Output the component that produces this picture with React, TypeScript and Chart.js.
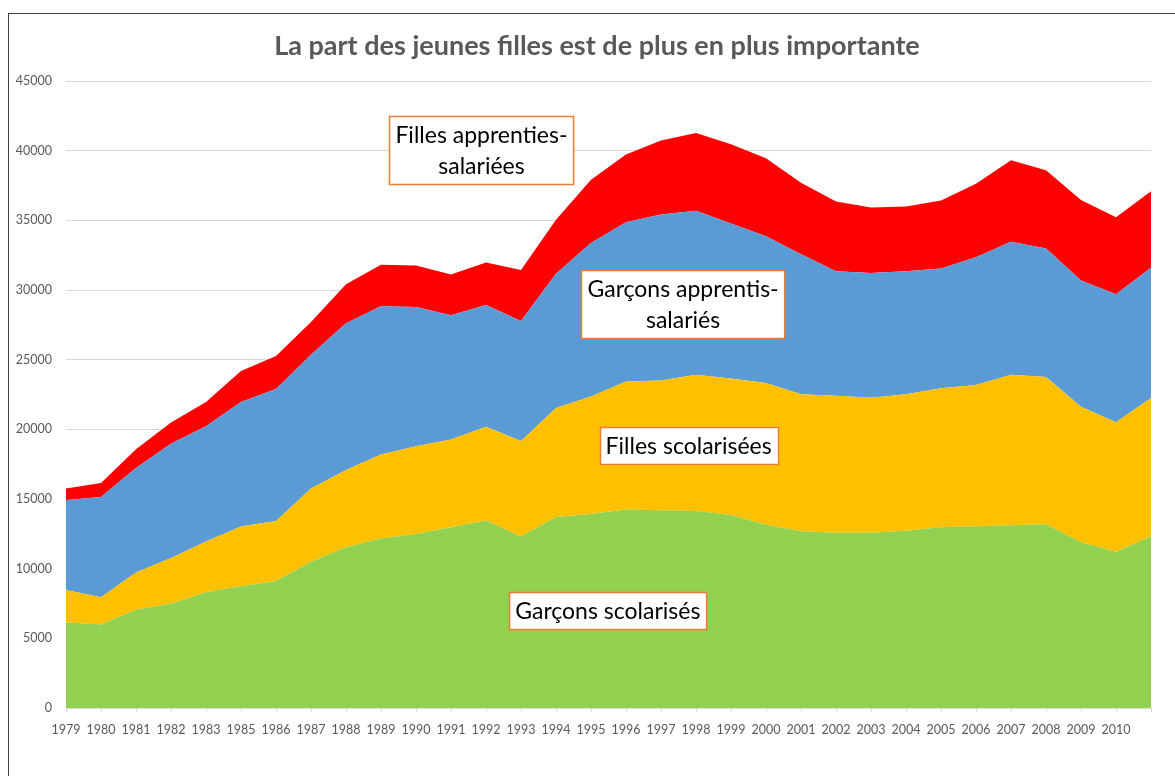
import React, { useEffect, useRef } from "react";
import { Chart, registerables } from "chart.js";

Chart.register(...registerables);

const TITLE = "La part des jeunes filles est de plus en plus importante";

const YEARS = [
  "1979", "1980", "1981", "1982", "1983", "1985", "1986", "1987", "1988", "1989",
  "1990", "1991", "1992", "1993", "1994", "1995", "1996", "1997", "1998", "1999",
  "2000", "2001", "2002", "2003", "2004", "2005", "2006", "2007", "2008", "2009",
  "2010", "",
];

const GARCONS_SCOLARISES = [
  6140, 6000, 7050, 7490, 8300, 8730, 9110, 10490, 11540, 12160,
  12490, 12970, 13460, 12300, 13700, 13920, 14240, 14190, 14140, 13860,
  13160, 12680, 12570, 12570, 12730, 12970, 13050, 13110, 13190, 11890,
  11220, 12300,
];

const FILLES_SCOLARISEES = [
  2320, 1950, 2680, 3270, 3650, 4300, 4320, 5270, 5540, 6030,
  6290, 6300, 6730, 6860, 7840, 8430, 9190, 9320, 9780, 9790,
  10160, 9830, 9840, 9700, 9780, 9980, 10140, 10810, 10570, 9730,
  9290, 9940,
];

const GARCONS_APPRENTIS = [
  6460, 7190, 7490, 8210, 8270, 8940, 9460, 9590, 10540, 10650,
  10000, 8920, 8730, 8620, 9620, 11030, 11430, 11900, 11760, 11130,
  10540, 10060, 8940, 8950, 8840, 8590, 9160, 9540, 9210, 9060,
  9190, 9350,
];

const FILLES_APPRENTIES = [
  840, 1000, 1350, 1520, 1750, 2220, 2380, 2350, 2790, 2970,
  2980, 2920, 3050, 3650, 3890, 4540, 4870, 5320, 5590, 5680,
  5600, 5130, 5000, 4700, 4650, 4890, 5270, 5860, 5620, 5780,
  5520, 5490,
];

const SERIES_NAMES = [
  "Garçons scolarisés",
  "Filles scolarisées",
  "Garçons apprentis-salariés",
  "Filles apprenties-salariées",
];

const ANNOTATION_LINES = [
  ["Filles apprenties-", "salariées"],
  ["Garçons apprentis-", "salariés"],
  ["Filles scolarisées"],
  ["Garçons scolarisés"],
];

const Y_MAX = 45000;
const Y_STEP = 5000;

export default function App() {
  const canvasRef = useRef<HTMLCanvasElement | null>(null);

  useEffect(() => {
    const canvas = canvasRef.current;
    if (!canvas) return;

    // anchor (category index, value) for the centre of each annotation box
    const anchors = [
      [11.87, 40080],
      [17.63, 29000],
      [17.79, 18840],
      [15.48, 7030],
    ];

    const decorPlugin = {
      id: "decor",
      afterDatasetsDraw(chart: any) {
        const ctx = chart.ctx as CanvasRenderingContext2D;
        const xs = chart.scales.x;
        const ys = chart.scales.y;
        ctx.save();
        ctx.font = "23px Lato";
        const lineH = 31;
        const padX = 6;
        const padY = 3;
        ANNOTATION_LINES.forEach((lines, i) => {
          const cx = xs.getPixelForValue(anchors[i][0]);
          const cy = ys.getPixelForValue(anchors[i][1]);
          const w = Math.max(...lines.map((l) => ctx.measureText(l).width)) + 2 * padX;
          const h = lines.length * lineH + 2 * padY;
          const x0 = Math.round(cx - w / 2) + 0.5;
          const y0 = Math.round(cy - h / 2) + 0.5;
          ctx.fillStyle = "#ffffff";
          ctx.fillRect(x0, y0, w, h);
          ctx.strokeStyle = "#ED7D31";
          ctx.lineWidth = 1.5;
          ctx.strokeRect(x0, y0, w, h);
          ctx.fillStyle = "#000000";
          ctx.textAlign = "center";
          ctx.textBaseline = "middle";
          lines.forEach((l, k) => {
            ctx.fillText(l, cx, y0 + padY + lineH * (k + 0.5) + 1);
          });
        });
        ctx.restore();
      },
      afterDraw(chart: any) {
        const ctx = chart.ctx as CanvasRenderingContext2D;
        ctx.save();
        ctx.font = "bold 27px Lato";
        ctx.fillStyle = "#595959";
        ctx.textAlign = "center";
        ctx.textBaseline = "middle";
        ctx.fillText(TITLE, 597, 46);
        ctx.restore();
      },
    };

    const colors = ["#92D050", "#FFC000", "#5B9BD5", "#FF0000"];
    const values = [GARCONS_SCOLARISES, FILLES_SCOLARISEES, GARCONS_APPRENTIS, FILLES_APPRENTIES];

    const chart = new Chart(canvas, {
      type: "line",
      data: {
        labels: YEARS,
        datasets: values.map((v, i) => ({
          label: SERIES_NAMES[i],
          data: v,
          backgroundColor: colors[i],
          borderColor: colors[i],
          borderWidth: 0,
          pointRadius: 0,
          pointHoverRadius: 0,
          tension: 0,
          fill: i === 0 ? "origin" : "-1",
        })),
      },
      options: {
        animation: false,
        responsive: false,
        maintainAspectRatio: false,
        events: [],
        layout: { padding: { left: 0, right: 24, top: 81, bottom: 0 } },
        plugins: {
          legend: { display: false },
          title: { display: false },
          tooltip: { enabled: false },
        },
        scales: {
          x: {
            type: "category",
            offset: false,
            grid: {
              drawOnChartArea: false,
              drawTicks: true,
              tickLength: 4,
              color: "#D9D9D9",
            },
            border: { display: true, color: "#D9D9D9" },
            ticks: {
              autoSkip: false,
              maxRotation: 0,
              minRotation: 0,
              padding: 10,
              color: "#595959",
              font: { family: "Lato", size: 12.5 },
            },
            afterFit: (s: any) => {
              s.height = 68;
            },
          },
          y: {
            stacked: true,
            min: 0,
            max: Y_MAX,
            ticks: {
              stepSize: Y_STEP,
              padding: 14,
              color: "#595959",
              font: { family: "Lato", size: 12.5 },
              callback: (v: any) => String(v),
            },
            grid: { color: "#D9D9D9", drawTicks: false },
            border: { display: false },
            afterFit: (s: any) => {
              s.width = 66;
            },
          },
        },
      },
      plugins: [decorPlugin],
    } as any);

    return () => {
      chart.destroy();
    };
  }, []);

  return (
    <div
      style={{
        position: "fixed",
        left: 0,
        top: 0,
        width: 1175,
        height: 776,
        overflow: "hidden",
        background: "#ffffff",
      }}
    >
      <div
        style={{
          position: "absolute",
          left: 8,
          top: 13,
          width: 1300,
          height: 900,
          borderLeft: "1px solid #404040",
          borderTop: "1px solid #404040",
        }}
      />
      <canvas
        ref={canvasRef}
        width={1175}
        height={776}
        style={{ position: "absolute", left: 0, top: 0, width: 1175, height: 776 }}
      />
    </div>
  );
}
